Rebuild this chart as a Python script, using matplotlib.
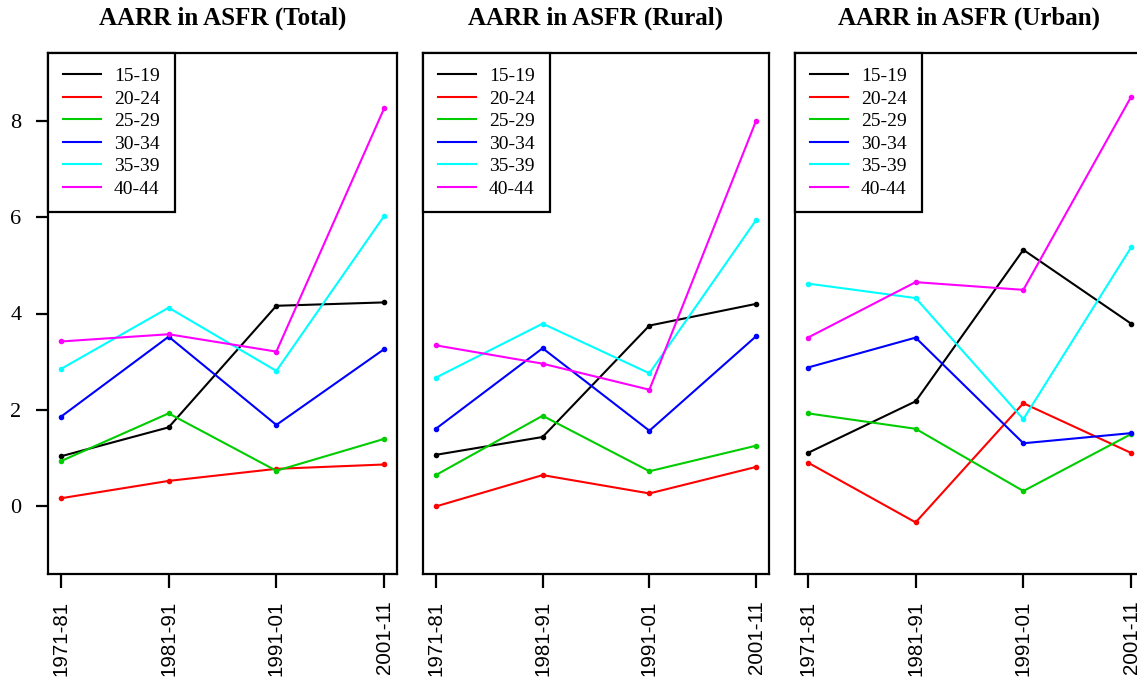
import numpy as np
import matplotlib
matplotlib.use("Agg")
import matplotlib.pyplot as plt

# datos
periodos = ["1971-81", "1981-91", "1991-01", "2001-11"]
grupos = ["15-19", "20-24", "25-29", "30-34", "35-39", "40-44"]
colores = ["#000000", "#FF0000", "#00CD00", "#0000FF", "#00FFFF", "#FF00FF"]

total = [
    [1.04, 1.64, 4.16, 4.23],
    [0.17, 0.53, 0.78, 0.87],
    [0.94, 1.93, 0.74, 1.40],
    [1.86, 3.52, 1.69, 3.26],
    [2.85, 4.12, 2.81, 6.02],
    [3.42, 3.57, 3.21, 8.25],
]
rural = [
    [1.07, 1.44, 3.75, 4.20],
    [0.00, 0.65, 0.27, 0.82],
    [0.65, 1.88, 0.73, 1.26],
    [1.61, 3.28, 1.57, 3.53],
    [2.67, 3.79, 2.76, 5.94],
    [3.34, 2.96, 2.42, 8.00],
]
urbano = [
    [1.11, 2.18, 5.32, 3.79],
    [0.91, -0.33, 2.14, 1.11],
    [1.93, 1.61, 0.32, 1.50],
    [2.88, 3.50, 1.31, 1.52],
    [4.62, 4.32, 1.81, 5.37],
    [3.50, 4.65, 4.49, 8.49],
]
titulos = ["AARR in ASFR (Total)", "AARR in ASFR (Rural)", "AARR in ASFR (Urban)"]
paneles = [total, rural, urbano]

W, H = 1137, 684
fig = plt.figure(figsize=(W / 100, H / 100), dpi=100)

# posiciones de los paneles en pixeles (izq, der)
cajas = [(48, 397), (423, 769), (795, 1144)]
arriba, abajo = 53, 574

x = np.arange(1, 5)
for i, (datos, titulo) in enumerate(zip(paneles, titulos)):
    l, r = cajas[i]
    ax = fig.add_axes([l / W, 1 - abajo / H, (r - l) / W, (abajo - arriba) / H])
    for serie, color, nombre in zip(datos, colores, grupos):
        ax.plot(x, serie, color=color, lw=1.5, marker="o", ms=3, label=nombre)
    ax.set_xlim(0.88, 4.12)
    ax.set_ylim(-1.4, 9.4)
    for s in ax.spines.values():
        s.set_linewidth(1.6)
    ax.set_xticks(x)
    ax.set_xticklabels(periodos, rotation=90, family="Liberation Sans", fontsize=14.8)
    ax.tick_params(axis="x", direction="out", length=10, width=1.6, pad=9)
    if i == 0:
        ax.set_yticks([0, 2, 4, 6, 8])
        ax.set_yticklabels(["0", "2", "4", "6", "8"], family="Liberation Serif", fontsize=16)
        ax.tick_params(axis="y", direction="out", length=9, width=1.6, pad=10)
    else:
        ax.set_yticks([])
    # titulo encima de la caja, en pixeles
    fig.text(((l + r) / 2) / W, 1 - 18 / H, titulo, ha="center", va="center",
             family="Liberation Serif", fontweight="bold", fontsize=18)
    leg = ax.legend(loc="upper left", borderaxespad=0, fancybox=False, framealpha=1,
                    edgecolor="black", prop={"family": "Liberation Serif", "size": 14},
                    handlelength=1.95, handletextpad=0.7, labelspacing=0.25,
                    borderpad=0.75)
    leg.get_frame().set_linewidth(1.6)
    for h in leg.legend_handles:
        h.set_marker("")

fig.savefig("out.png", dpi=100)
